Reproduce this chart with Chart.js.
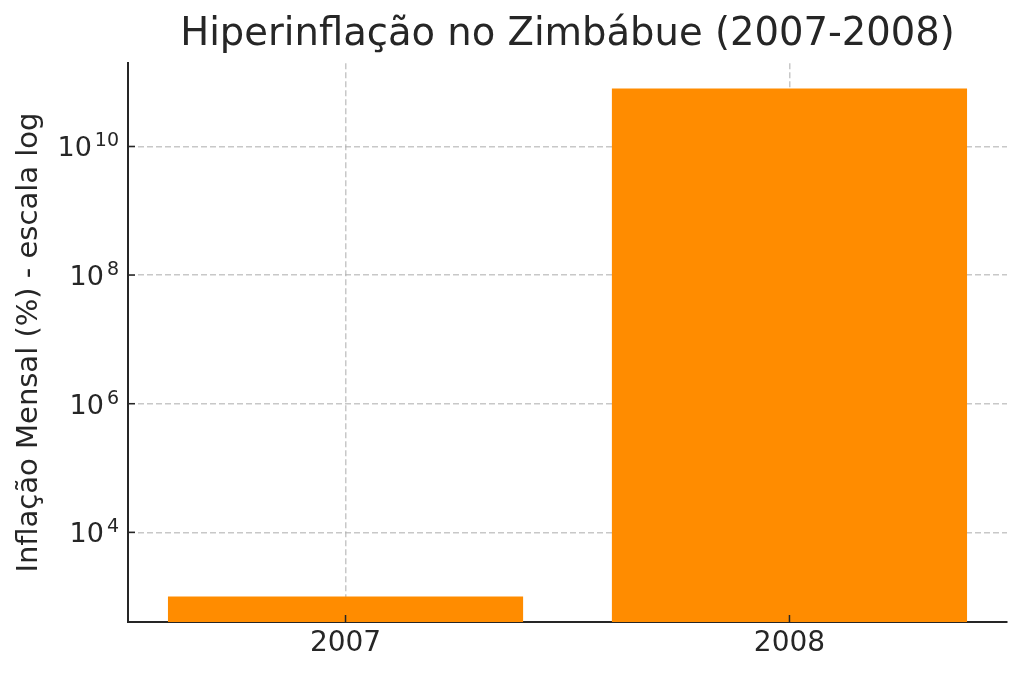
<!DOCTYPE html>
<html lang="pt">
<head>
<meta charset="utf-8">
<title>Hiperinflação no Zimbábue</title>
<script src="https://cdn.jsdelivr.net/npm/chart.js@4/dist/chart.umd.min.js"></script>
<style>
    html, body { margin: 0; padding: 0; background: #fff; }
    #wrap { width: 1024px; height: 677px; position: relative; }
</style>
</head>
<body>
<div id="wrap"><canvas id="inflationChart"></canvas></div>
<script>
// Data
const years = ['2007', '2008'];
const monthlyInflation = [1000, 79.6e9];   // % per month (log scale)
const tickValues = [1e4, 1e6, 1e8, 1e10];
const tickBase = '10';
const tickExponents = ['4', '6', '8', '10'];
const axisMin = 403;
const axisMax = 1.97e11;
const xMin = -0.49;   // bar positions 0..1 plus matplotlib margins
const xMax = 1.49;

const textColor = '#262626';
const gridColor = 'rgba(176,176,176,0.7)';
const fontFamily = "'DejaVu Sans', sans-serif";

// matplotlib-style ticks pointing into the plot, and 10^n labels with a real superscript
const logTicks = {
    id: 'logTicks',
    afterDraw(chart) {
        const { ctx, chartArea, scales } = chart;
        ctx.save();
        ctx.strokeStyle = textColor;
        ctx.lineWidth = 1.5;
        scales.y.ticks.forEach((t, i) => {
            const py = scales.y.getPixelForTick(i);
            ctx.beginPath();
            ctx.moveTo(chartArea.left, py);
            ctx.lineTo(chartArea.left + 7, py);
            ctx.stroke();
        });
        scales.x.ticks.forEach((t, i) => {
            const px = scales.x.getPixelForTick(i);
            ctx.beginPath();
            ctx.moveTo(px, chartArea.bottom);
            ctx.lineTo(px, chartArea.bottom - 7);
            ctx.stroke();
        });

        // y labels
        ctx.fillStyle = textColor;
        ctx.textAlign = 'right';
        ctx.textBaseline = 'alphabetic';
        const right = chartArea.left - 9;
        scales.y.ticks.forEach((t, i) => {
            const k = tickValues.indexOf(t.value);
            if (k < 0) return;
            const py = scales.y.getPixelForTick(i);
            const baseLine = py + 10;
            ctx.font = '19px ' + fontFamily;
            const expW = ctx.measureText(tickExponents[k]).width;
            ctx.fillText(tickExponents[k], right, baseLine - 10);
            ctx.font = '27px ' + fontFamily;
            ctx.fillText(tickBase, right - expW - 3, baseLine);
        });
        ctx.restore();
    }
};

const ctx = document.getElementById('inflationChart').getContext('2d');
new Chart(ctx, {
    type: 'bar',
    data: {
        datasets: [{
            label: 'Inflação Mensal (%)',
            data: monthlyInflation.map((v, i) => ({ x: i, y: v })),
            backgroundColor: '#ff8c00',
            borderWidth: 0,
            barPercentage: 0.8,
            categoryPercentage: 1.0
        }]
    },
    options: {
        responsive: true,
        maintainAspectRatio: false,
        animation: false,
        layout: { padding: { left: 0, right: 17, top: 0, bottom: 0 } },
        plugins: {
            legend: { display: false },
            tooltip: { enabled: false },
            title: {
                display: true,
                fullSize: false,
                text: 'Hiperinflação no Zimbábue (2007-2008)',
                color: textColor,
                font: { family: fontFamily, size: 38.5, weight: 'normal' },
                padding: { top: 12, bottom: 5 }
            }
        },
        scales: {
            x: {
                type: 'linear',
                z: 1,
                min: xMin,
                max: xMax,
                offset: false,
                grid: {
                    offset: false,
                    color: gridColor,
                    lineWidth: 1.5,
                    drawTicks: false
                },
                border: { color: textColor, width: 2, dash: [6, 3] },
                afterBuildTicks(scale) {
                    scale.ticks = years.map((y, i) => ({ value: i }));
                },
                ticks: {
                    color: textColor,
                    padding: 5,
                    font: { family: fontFamily, size: 28 },
                    callback(value) { return years[value] ?? ''; }
                },
                afterFit(scale) { scale.height = 55; }
            },
            y: {
                type: 'logarithmic',
                z: 1,
                min: axisMin,
                max: axisMax,
                grid: {
                    color: gridColor,
                    lineWidth: 1.5,
                    drawTicks: false
                },
                border: { color: textColor, width: 2, dash: [6, 3] },
                afterBuildTicks(scale) {
                    scale.ticks = tickValues.map(v => ({ value: v }));
                },
                ticks: {
                    display: false
                },
                title: {
                    display: true,
                    text: 'Inflação Mensal (%) - escala log',
                    color: textColor,
                    font: { family: fontFamily, size: 29 },
                    padding: { top: 12, bottom: 0 }
                },
                afterFit(scale) { scale.width = 128; }
            }
        }
    },
    plugins: [logTicks]
});
</script>
</body>
</html>
